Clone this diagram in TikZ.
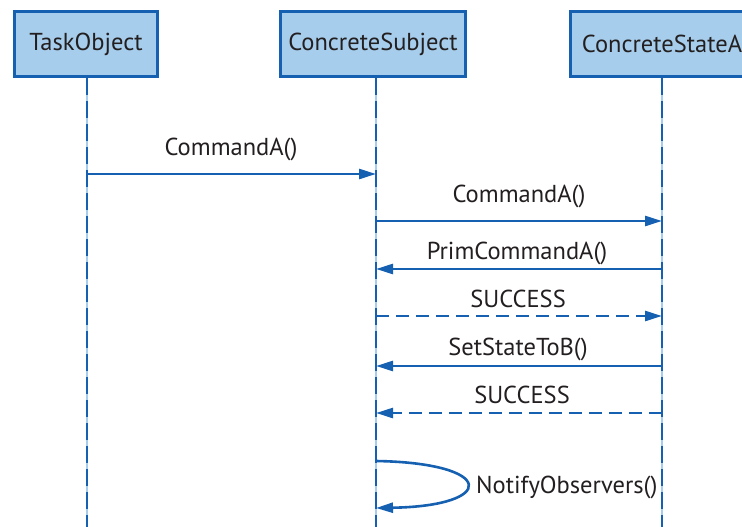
\documentclass[tikz,border=0pt]{standalone}
\usepackage{fontspec}
\setmainfont{PT Sans}
\usetikzlibrary{arrows.meta}
\definecolor{umlblue}{HTML}{1560B0}
\definecolor{umlfill}{HTML}{A6CDEB}
\definecolor{umltext}{HTML}{231F20}
\newcommand{\diagfont}{\fontsize{24.5}{28}\selectfont}
\begin{document}
\begin{tikzpicture}[x=1pt,y=-1pt,
  objbox/.style={draw=umlblue, fill=umlfill, line width=3.4pt, minimum height=65pt,
    inner sep=0pt, font=\diagfont, text=umltext},
  lifeline/.style={draw=umlblue, line width=2.8pt, dash pattern=on 17pt off 6pt},
  lifeglow/.style={draw=umlfill, line width=1.2pt},
  msg/.style={draw=umlblue, line width=2.6pt, -{Triangle[length=17pt,width=10pt]}},
  reply/.style={msg, dash pattern=on 13pt off 7pt},
  lbl/.style={anchor=base, font=\diagfont, text=umltext, inner sep=0pt}
]
\useasboundingbox (0,0) rectangle (742,527);

% object boxes
\node[objbox, minimum width=143pt] (task) at (86,44) {TaskObject};
\node[objbox, minimum width=185pt] (subj) at (373,44) {ConcreteSubject};
\node[objbox, minimum width=183pt] (stateA) at (662,44) {ConcreteStateA};

% lifelines
\coordinate (taskTop) at (87,78);   \coordinate (taskBot) at (87,527);
\coordinate (subjTop) at (376,78);  \coordinate (subjBot) at (376,527);
\coordinate (stTop) at (662,78);    \coordinate (stBot) at (662,527);
\foreach \a/\b in {taskTop/taskBot, subjTop/subjBot, stTop/stBot}{
  \draw[lifeglow] (\a) -- (\b);
  \draw[lifeline] (\a) -- (\b);
}

% message end points on the lifelines
\coordinate (m1a) at (87,174);  \coordinate (m1b) at (376,174);
\coordinate (m2a) at (376,221); \coordinate (m2b) at (662,221);
\coordinate (m3a) at (662,269); \coordinate (m3b) at (376,269);
\coordinate (m4a) at (376,316); \coordinate (m4b) at (662,316);
\coordinate (m5a) at (662,366); \coordinate (m5b) at (376,366);
\coordinate (m6a) at (662,413); \coordinate (m6b) at (376,413);
\coordinate (m7a) at (376,461); \coordinate (m7b) at (376,508);

% messages
\draw[msg] (m1a) -- (m1b);
\draw[msg] (m2a) -- (m2b);
\draw[msg] (m3a) -- (m3b);
\draw[reply] (m4a) -- (m4b);
\draw[msg] (m5a) -- (m5b);
\draw[reply] (m6a) -- (m6b);
\draw[msg] (m7a) .. controls (497,463) and (497,506) .. (m7b);

% message labels
\node[lbl] (l1) at (231,155) {CommandA()};
\node[lbl] (l2) at (519,202) {CommandA()};
\node[lbl] (l3) at (517,259) {PrimCommandA()};
\node[lbl] (l4) at (518,307) {SUCCESS};
\node[lbl] (l5) at (518,355) {SetStateToB()};
\node[lbl] (l6) at (522,403) {SUCCESS};
\node[lbl, anchor=base west] (l7) at (476,493) {NotifyObservers()};
\end{tikzpicture}
\end{document}
